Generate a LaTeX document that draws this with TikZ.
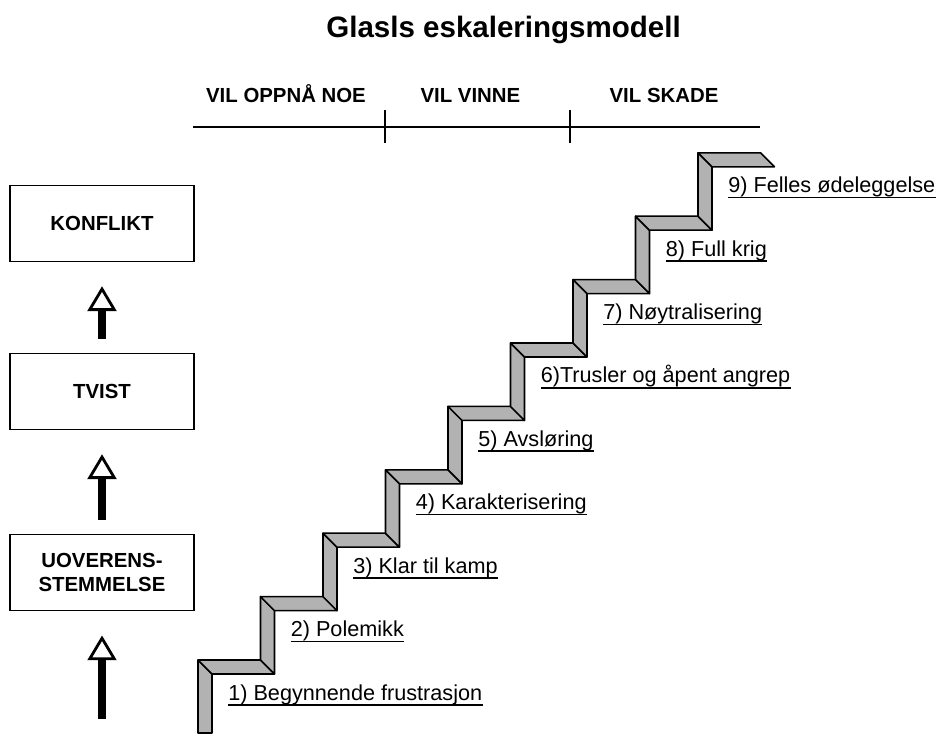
\documentclass[tikz,border=0pt]{standalone}
\usepackage{fontspec}
\setmainfont{Liberation Sans}
\usetikzlibrary{arrows.meta}

\tikzset{
  stage/.style={draw=black, line width=1.2pt, minimum width=4.6cm, minimum height=1.9cm,
    align=center, font=\fontsize{14.5}{17}\selectfont\bfseries},
  phase/.style={anchor=base, font=\fontsize{14.5}{17}\selectfont\bfseries},
  stairpart/.style={draw=black, line width=1.1pt, fill=black!30, line join=round},
  steplabel/.style={anchor=base west, inner sep=0pt, font=\fontsize{15.4}{18}\selectfont},
  rise/.style={line width=5pt, shorten >=0.6cm, shorten <=0.35cm,
    -{Triangle[open, length=0.62cm, width=0.72cm, line width=2pt]}}
}

\begin{document}
\begin{tikzpicture}
      \useasboundingbox (0, 0) rectangle (23.45, 18.325);

      \draw (12.59, 17.375) node [anchor=base, font=\fontsize{21}{25}\selectfont\bfseries] (title)
      {Glasls eskaleringsmodell};

      %%%%%%%%%%%%%%%%%%%%%%%%%%%%%%%%%%%%%%%%%%%%%%%%%%%%%%%%%%%%%%
      % Phases
      %%%%%%%%%%%%%%%%%%%%%%%%%%%%%%%%%%%%%%%%%%%%%%%%%%%%%%%%%%%%%%
      \draw (7.15, 15.75) node [phase] (oppna) {VIL OPPNÅ NOE};
      \draw (11.76, 15.75) node [phase] (vinne) {VIL VINNE};
      \draw (16.6, 15.75) node [phase] (skade) {VIL SKADE};

      \coordinate (axis_l) at (4.825, 15.15);
      \coordinate (axis_r) at (19.0, 15.15);
      \coordinate (tick_a) at (9.625, 15.15);
      \coordinate (tick_b) at (14.25, 15.15);
      \draw [line width=1pt] (axis_l) -- (axis_r);
      \draw [line width=1pt] ([yshift=0.42cm] tick_a) -- ([yshift=-0.4cm] tick_a);
      \draw [line width=1pt] ([yshift=0.42cm] tick_b) -- ([yshift=-0.4cm] tick_b);

      %%%%%%%%%%%%%%%%%%%%%%%%%%%%%%%%%%%%%%%%%%%%%%%%%%%%%%%%%%%%%%
      % Levels
      %%%%%%%%%%%%%%%%%%%%%%%%%%%%%%%%%%%%%%%%%%%%%%%%%%%%%%%%%%%%%%
      \draw (2.55, 12.74) node [stage] (konflikt) {KONFLIKT};
      \draw (2.55, 8.54) node [stage] (tvist) {TVIST};
      \draw (2.55, 4.01) node [stage] (uoverens) {UOVERENS-\\STEMMELSE};
      \coordinate (start) at (2.55, 0);

      \draw [rise] (start) -- (uoverens);
      \draw [rise] (uoverens) -- (tvist);
      \draw [rise] (tvist) -- (konflikt);

      %%%%%%%%%%%%%%%%%%%%%%%%%%%%%%%%%%%%%%%%%%%%%%%%%%%%%%%%%%%%%%
      % Stairs
      %%%%%%%%%%%%%%%%%%%%%%%%%%%%%%%%%%%%%%%%%%%%%%%%%%%%%%%%%%%%%%
      % first riser runs off the bottom edge
      \filldraw [stairpart] (4.95, 0) -- (4.95, 1.825) -- (5.3, 1.475) -- (5.3, 0) -- cycle;
      \foreach \i [evaluate=\i as \x using 4.95+1.5625*(\i-1),
                   evaluate=\i as \y using 1.825+1.585*(\i-1)] in {1,...,9} {
        \ifnum\i>1
          \filldraw [stairpart] (\x, \y-1.585) -- (\x, \y) -- (\x+0.35, \y-0.35) -- (\x+0.35, \y-1.935) -- cycle;
        \fi
        \filldraw [stairpart] (\x, \y) -- (\x+1.5625, \y) -- (\x+1.9125, \y-0.35) -- (\x+0.35, \y-0.35) -- cycle;
      }

      \foreach \i/\txt [evaluate=\i as \x using 5.7+1.5625*(\i-1),
                        evaluate=\i as \y using 0.825+1.585*(\i-1)] in
        {1/{1) Begynnende frustrasjon}, 2/{2) Polemikk}, 3/{3) Klar til kamp},
         4/{4) Karakterisering}, 5/{5) Avsløring}, 6/{6)Trusler og åpent angrep},
         7/{7) Nøytralisering}, 8/{8) Full krig}, 9/{9) Felles ødeleggelse}} {
        \draw (\x, \y) node [steplabel] (step\i) {\txt};
        \draw [line width=1.1pt] ([yshift=-0.12cm] step\i.base west) -- ([yshift=-0.12cm] step\i.base east);
      }
\end{tikzpicture}
\end{document}
